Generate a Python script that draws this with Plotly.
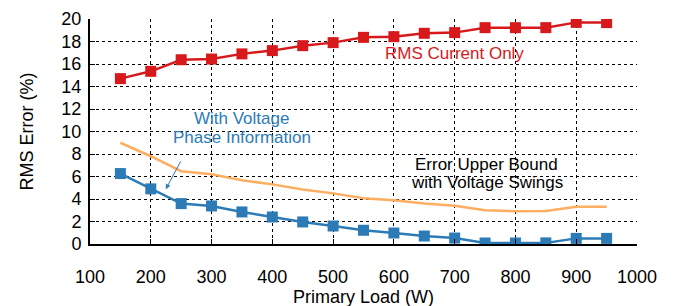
import plotly.graph_objects as go

loads = [150, 200, 250, 300, 350, 400, 450, 500, 550, 600, 650, 700, 750, 800, 850, 900, 950]
rms_current_only = [14.7, 15.35, 16.38, 16.44, 16.9, 17.19, 17.63, 17.9, 18.37, 18.43, 18.73, 18.79, 19.23, 19.23, 19.23, 19.7, 19.68]
with_phase = [6.26, 4.9, 3.59, 3.38, 2.85, 2.4, 1.96, 1.6, 1.22, 0.98, 0.71, 0.53, 0.09, 0.09, 0.1, 0.5, 0.5]
upper_bound = [9.0, 7.8, 6.47, 6.2, 5.67, 5.3, 4.84, 4.5, 4.07, 3.89, 3.59, 3.41, 3.0, 2.91, 2.94, 3.32, 3.32]

x_ticks = [100, 200, 300, 400, 500, 600, 700, 800, 900, 1000]
y_ticks = [0, 2, 4, 6, 8, 10, 12, 14, 16, 18, 20]

RED = "#d7191c"
BLUE = "#2c7bb6"
ORANGE = "#fdae61"
FONT = "Liberation Sans, Arial, Helvetica, sans-serif"

fig = go.Figure()
fig.add_trace(go.Scatter(x=loads, y=upper_bound, mode="lines",
                         line=dict(color=ORANGE, width=2.5), showlegend=False))
fig.add_trace(go.Scatter(x=loads, y=with_phase, mode="lines+markers",
                         line=dict(color=BLUE, width=2.5),
                         marker=dict(symbol="square", size=11, color=BLUE), showlegend=False))
fig.add_trace(go.Scatter(x=loads, y=rms_current_only, mode="lines+markers",
                         line=dict(color=RED, width=2.5),
                         marker=dict(symbol="square", size=11, color=RED), showlegend=False))

def label(x, y, text, color):
    fig.add_annotation(x=x, y=y, text=text, showarrow=False,
                       font=dict(family=FONT, size=17, color=color))

label(699, 16.95, "RMS Current Only", RED)
label(350, 11.15, "With Voltage", BLUE)
label(350, 9.5, "Phase Information", BLUE)
label(753, 7.05, "Error Upper Bound", "black")
label(753, 5.5, "with Voltage Swings", "black")
fig.add_annotation(x=224.6, y=4.87, ax=250.6, ay=7.48, axref="x", ayref="y",
                   text="", showarrow=True, arrowhead=2, arrowsize=1, arrowwidth=1,
                   arrowcolor=BLUE)

axis_common = dict(showline=True, linecolor="black", linewidth=2,
                   showgrid=True, gridcolor="black", gridwidth=1, griddash="dot",
                   ticks="inside", ticklen=5, tickcolor="black", tickwidth=1,
                   zeroline=False, automargin=False,
                   tickfont=dict(family=FONT, size=18, color="black"))

fig.update_xaxes(range=[100, 1000], tickvals=x_ticks, ticklabelstandoff=15,
                 title=dict(text="Primary Load (W)", font=dict(family=FONT, size=18, color="black"), standoff=0),
                 **axis_common)
fig.update_yaxes(range=[0, 20], tickvals=y_ticks, ticklabelstandoff=3,
                 title=dict(text="RMS Error (%)", font=dict(family=FONT, size=18, color="black"), standoff=23),
                 **axis_common)

# page has an 8px default body margin, so the margins compensate for it
fig.update_layout(width=674, height=306, margin=dict(l=82, r=45, t=11, b=70),
                  plot_bgcolor="white", paper_bgcolor="white",
                  font=dict(family=FONT, color="black"))

fig.write_html("out.html")
